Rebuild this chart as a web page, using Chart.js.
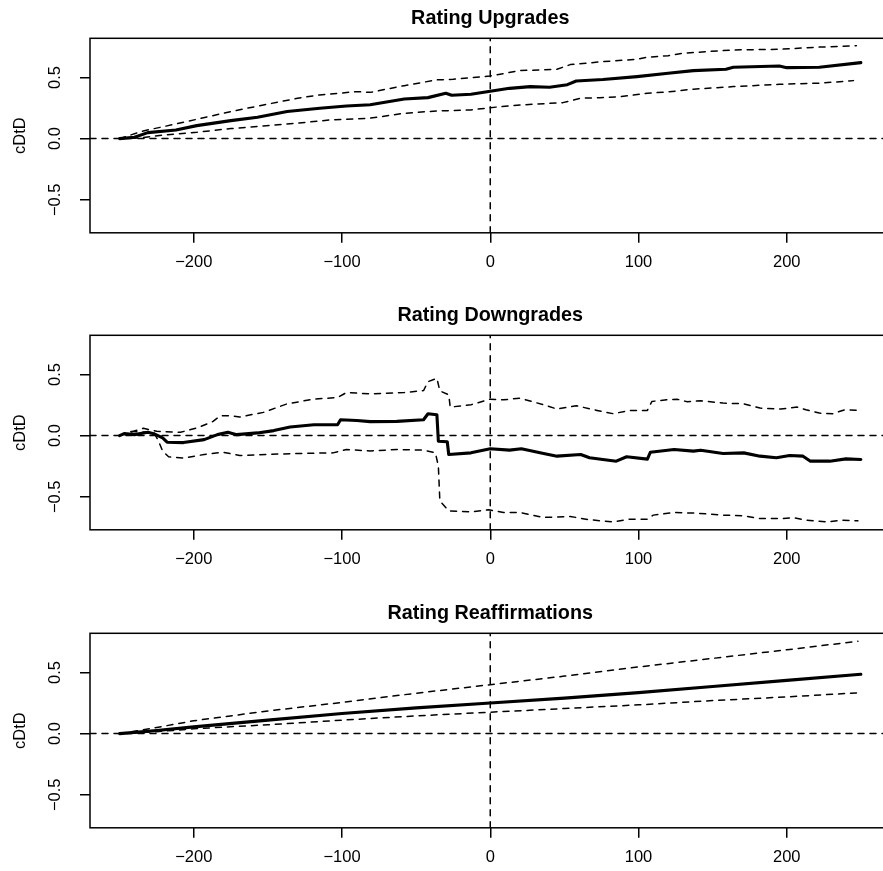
<!DOCTYPE html>
<html>
<head>
<meta charset="utf-8">
<script src="https://cdn.jsdelivr.net/npm/chart.js@4/dist/chart.umd.min.js"></script>
<style>
html,body{margin:0;padding:0;background:#fff;width:883px;height:871px;overflow:hidden;}
.panel{position:absolute;left:0;width:900px;height:297px;}
canvas{display:block;}
</style>
</head>
<body>
<div class="panel" style="top:0px"><canvas id="c1" width="900" height="297"></canvas></div>
<div class="panel" style="top:297.4px"><canvas id="c2" width="900" height="297"></canvas></div>
<div class="panel" style="top:595px"><canvas id="c3" width="900" height="297"></canvas></div>
<script>
// ---------- data (event day, cDtD) ----------
const titles = ["Rating Upgrades", "Rating Downgrades", "Rating Reaffirmations"];
const yLabel = "cDtD";
const xTickValues = [-200, -100, 0, 100, 200];
const yTickValues = [-0.5, 0, 0.5];
const xRange = [-270, 270];
const yRange = [-0.77, 0.82];
const refH = [0];   // horizontal reference line (y = 0)
const refV = [0];   // vertical reference line (x = 0)

// Rating Upgrades
const upMain = [[-250,0],[-240,0.011],[-231,0.049],[-212,0.071],[-198,0.106],[-175,0.147],[-157,0.175],[-137,0.221],[-115,0.248],[-97,0.267],[-81,0.277],[-58,0.324],[-42,0.335],[-30,0.371],[-26,0.354],[-13,0.362],[0,0.387],[13,0.411],[27,0.425],[40,0.420],[52,0.441],[58,0.471],[76,0.483],[99,0.507],[120,0.534],[137,0.556],[159,0.567],[164,0.583],[195,0.594],[200,0.580],[222,0.583],[250,0.621]];
const upHi = [[-250,0],[-234,0.063],[-218,0.104],[-198,0.158],[-175,0.221],[-153,0.275],[-130,0.330],[-115,0.357],[-90,0.384],[-81,0.378],[-58,0.433],[-36,0.480],[-25,0.485],[0,0.512],[20,0.556],[45,0.567],[54,0.605],[76,0.629],[99,0.649],[106,0.665],[120,0.678],[130,0.698],[164,0.725],[195,0.730],[220,0.747],[247,0.760]];
const upLo = [[-250,0],[-236,0.006],[-220,0.030],[-198,0.052],[-175,0.082],[-153,0.104],[-130,0.126],[-108,0.153],[-81,0.167],[-58,0.207],[-36,0.226],[-13,0.234],[0,0.253],[20,0.275],[49,0.294],[61,0.330],[74,0.335],[88,0.343],[106,0.371],[120,0.382],[137,0.404],[164,0.425],[195,0.444],[222,0.453],[245,0.474]];

// Rating Downgrades
const dnMain = [[-250,0],[-247,0.016],[-240,0.008],[-231,0.027],[-227,0.016],[-221,-0.019],[-218,-0.054],[-207,-0.057],[-193,-0.033],[-184,0.008],[-177,0.027],[-171,0.008],[-157,0.022],[-146,0.041],[-135,0.071],[-119,0.089],[-103,0.089],[-101,0.130],[-90,0.124],[-81,0.114],[-63,0.116],[-45,0.130],[-42,0.179],[-36,0.171],[-35,-0.046],[-29,-0.050],[-28,-0.154],[-13,-0.141],[0,-0.108],[13,-0.119],[21,-0.108],[36,-0.146],[45,-0.168],[61,-0.154],[67,-0.181],[85,-0.209],[92,-0.173],[106,-0.192],[108,-0.136],[124,-0.114],[137,-0.127],[142,-0.119],[157,-0.146],[171,-0.141],[182,-0.168],[193,-0.181],[202,-0.163],[211,-0.168],[216,-0.209],[229,-0.209],[240,-0.190],[250,-0.195]];
const dnHi = [[-250,0],[-234,0.060],[-225,0.035],[-209,0.027],[-198,0.062],[-187,0.116],[-182,0.163],[-175,0.163],[-169,0.152],[-153,0.190],[-137,0.260],[-119,0.298],[-103,0.311],[-97,0.352],[-81,0.341],[-58,0.352],[-45,0.368],[-42,0.441],[-36,0.469],[-34,0.366],[-28,0.333],[-27,0.233],[-13,0.252],[0,0.298],[9,0.293],[20,0.306],[36,0.252],[45,0.217],[58,0.244],[72,0.206],[83,0.179],[94,0.206],[106,0.206],[109,0.279],[119,0.293],[126,0.298],[133,0.276],[142,0.285],[157,0.266],[171,0.260],[182,0.225],[196,0.217],[207,0.233],[213,0.211],[222,0.184],[231,0.179],[239,0.211],[248,0.206]];
const dnLo = [[-250,0],[-243,0.033],[-227,0.027],[-224,-0.038],[-221,-0.127],[-217,-0.173],[-207,-0.184],[-193,-0.154],[-180,-0.136],[-169,-0.163],[-151,-0.154],[-130,-0.146],[-106,-0.141],[-97,-0.114],[-81,-0.125],[-63,-0.114],[-45,-0.119],[-37,-0.141],[-35,-0.249],[-34,-0.534],[-28,-0.615],[-13,-0.623],[-1,-0.607],[9,-0.629],[20,-0.629],[36,-0.669],[54,-0.661],[67,-0.688],[83,-0.705],[94,-0.683],[106,-0.683],[110,-0.650],[124,-0.629],[139,-0.634],[157,-0.650],[171,-0.656],[182,-0.678],[196,-0.678],[205,-0.672],[213,-0.691],[227,-0.705],[238,-0.691],[248,-0.697]];

// Rating Reaffirmations
const raMain = [[-250,0],[-225,0.025],[-200,0.055],[-150,0.110],[-100,0.165],[-50,0.210],[0,0.250],[50,0.290],[100,0.335],[150,0.385],[200,0.435],[250,0.485]];
const raHi = [[-250,0],[-225,0.050],[-200,0.105],[-150,0.185],[-100,0.255],[-50,0.330],[0,0.400],[50,0.470],[100,0.545],[150,0.615],[200,0.685],[248,0.755]];
const raLo = [[-250,0],[-225,0.015],[-200,0.040],[-150,0.072],[-100,0.110],[-50,0.145],[0,0.175],[50,0.205],[100,0.235],[150,0.270],[200,0.300],[250,0.335]];

// ---------- rendering ----------
const FONT = "'Liberation Sans', Arial, Helvetica, sans-serif";
const TICK_PX = 16.5, TITLE_PX = 19.8;
Chart.defaults.color = '#000';
Chart.defaults.font.family = FONT;

const minus = s => s.replace('-', '\u2212');
const toXY = arr => arr.map(p => ({x: p[0], y: p[1]}));

const boxPlugin = {
  id: 'box',
  afterDatasetsDraw(chart) {
    const {ctx, chartArea: a} = chart;
    ctx.save();
    ctx.strokeStyle = '#000';
    ctx.lineWidth = 1.5;
    ctx.strokeRect(a.left, a.top, a.right - a.left, a.bottom - a.top);
    ctx.restore();
  }
};

function lineDs(arr, width, dash) {
  return {
    data: toXY(arr), borderColor: '#000', borderWidth: width, borderDash: dash,
    borderCapStyle: 'round', borderJoinStyle: 'round',
    pointRadius: 0, tension: 0, fill: false
  };
}

function makePanel(id, title, mainS, hiS, loS) {
  const DASH = [6, 6];
  const datasets = [
    lineDs(refH.flatMap(v => [[xRange[0], v], [xRange[1], v]]), 1.5, DASH),
    lineDs(refV.flatMap(v => [[v, yRange[0]], [v, yRange[1]]]), 1.5, DASH),
    lineDs(hiS, 1.5, DASH),
    lineDs(loS, 1.5, DASH),
    lineDs(mainS, 3.1, [])
  ];
  new Chart(document.getElementById(id), {
    type: 'line',
    data: {datasets},
    plugins: [boxPlugin],
    options: {
      responsive: false, animation: false, devicePixelRatio: 1,
      layout: {padding: {left: 0, right: 9.5, top: 0, bottom: 0}},
      plugins: {
        legend: {display: false}, tooltip: {enabled: false},
        title: {
          display: true, text: title, fullSize: false, align: 'center', color: '#000',
          font: {family: FONT, size: TITLE_PX, weight: 'bold', lineHeight: 1.2},
          padding: {top: 7.1, bottom: 7.44}
        }
      },
      scales: {
        x: {
          type: 'linear', min: xRange[0], max: xRange[1],
          border: {display: false},
          grid: {drawOnChartArea: false, drawTicks: true, tickLength: 10, color: '#000', lineWidth: 1.5},
          ticks: {font: {family: FONT, size: TICK_PX}, color: '#000', padding: 9.8, maxRotation: 0, minRotation: 0,
                  callback: v => minus(String(v))},
          afterBuildTicks: s => { s.ticks = xTickValues.map(v => ({value: v})); },
          afterFit: s => { s.height = 297 - 232.8; }
        },
        y: {
          type: 'linear', min: yRange[0], max: yRange[1],
          border: {display: false},
          grid: {drawOnChartArea: false, drawTicks: true, tickLength: 10, color: '#000', lineWidth: 1.5},
          ticks: {font: {family: FONT, size: TICK_PX}, color: '#000', padding: 8.7,
                  minRotation: 90, maxRotation: 90, crossAlign: 'center',
                  callback: v => minus(Number(v).toFixed(1))},
          afterBuildTicks: s => { s.ticks = yTickValues.map(v => ({value: v})); },
          title: {display: true, text: yLabel, color: '#000', font: {family: FONT, size: TICK_PX, lineHeight: 1.2},
                  padding: {top: 10.8, bottom: 0}},
          afterFit: s => { s.width = 90; }
        }
      }
    }
  });
}

makePanel('c1', titles[0], upMain, upHi, upLo);
makePanel('c2', titles[1], dnMain, dnHi, dnLo);
makePanel('c3', titles[2], raMain, raHi, raLo);
</script>
</body>
</html>
